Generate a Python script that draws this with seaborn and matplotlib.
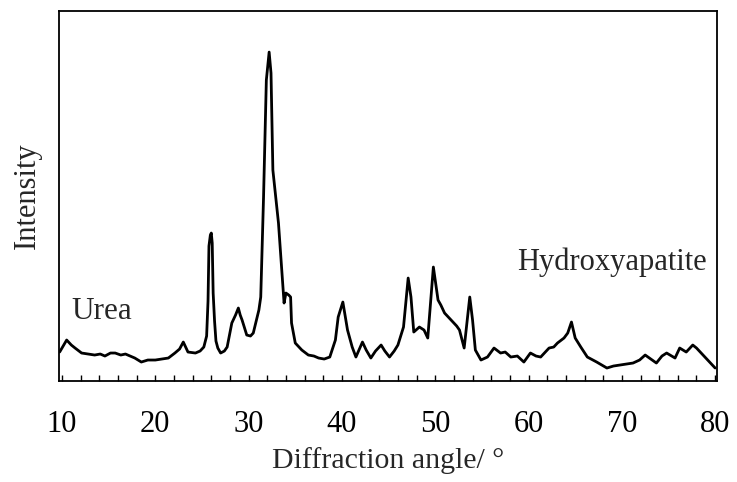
import matplotlib
matplotlib.use("Agg")
import matplotlib.pyplot as plt
from matplotlib.ticker import MultipleLocator
import seaborn as sns
import pandas as pd

# Diffraction angle (2θ, degrees)
angle = [9.75, 10.5, 11.0, 11.4, 12.1, 12.8, 13.5, 14.1, 14.6, 15.2, 15.7, 16.3,
         16.8, 17.3, 17.8, 18.5, 19.2, 20.0, 20.7, 21.4, 22.1, 22.6, 23.0, 23.5,
         24.3, 24.8, 25.2, 25.5, 25.65, 25.75, 25.9, 26.0, 26.1, 26.2, 26.35, 26.5,
         26.7, 27.0, 27.4, 27.7, 28.2, 28.6, 28.9, 29.1, 29.3, 29.8, 30.2, 30.5,
         31.1, 31.3, 31.6, 31.9, 32.2, 32.4, 32.6, 32.9, 33.2, 33.5, 33.8, 34.0,
         34.3, 34.5, 34.6, 35.0, 35.7, 36.4, 37.0, 37.5, 38.1, 38.7, 39.3, 39.6,
         40.1, 40.6, 41.1, 41.5, 42.2, 42.6, 43.1, 43.6, 44.2, 44.6, 45.1, 45.6,
         46.0, 46.6, 47.1, 47.4, 47.7, 48.3, 48.8, 49.2, 49.8, 50.3, 50.6, 51.0,
         51.5, 51.9, 52.3, 52.6, 53.1, 53.7, 54.0, 54.3, 54.9, 55.6, 56.3, 57.0,
         57.5, 58.1, 58.8, 59.5, 60.2, 60.8, 61.3, 62.2, 62.7, 63.1, 63.8, 64.2,
         64.6, 65.0, 65.6, 66.3, 67.3, 68.4, 69.1, 69.8, 70.5, 71.2, 71.9, 72.5,
         73.1, 73.7, 74.3, 74.8, 75.7, 76.2, 76.9, 77.6, 78.0, 78.5, 79.0, 79.4,
         80.0]
# Intensity (arbitrary units)
intensity = [29, 41, 36, 33, 28, 27, 26, 27, 25, 28, 28, 26,
             27, 25, 23, 19, 21, 21, 22, 23, 28, 32, 39, 29,
             28, 30, 34, 45, 80, 135, 146, 148, 138, 88, 60, 40,
             33, 28, 30, 34, 58, 66, 73, 66, 61, 46, 45, 48,
             71, 84, 184, 301, 329, 308, 211, 184, 158, 118, 78, 88,
             86, 84, 58, 38, 31, 26, 25, 23, 22, 24, 41, 64,
             79, 51, 34, 24, 39, 31, 23, 30, 36, 30, 24, 30,
             36, 54, 103, 84, 49, 54, 51, 43, 114, 81, 76, 68,
             63, 59, 55, 51, 33, 84, 61, 31, 21, 24, 33, 28,
             29, 24, 25, 19, 28, 25, 24, 33, 34, 38, 43, 48,
             59, 43, 34, 24, 19, 13, 15, 16, 17, 18, 21, 26,
             22, 18, 25, 28, 23, 33, 29, 36, 33, 28, 23, 19,
             13]

df = pd.DataFrame({"angle": angle, "intensity": intensity})

sns.set_theme(style="white")
plt.rcParams["font.family"] = ["Liberation Serif", "DejaVu Serif"]
plt.rcParams["axes.edgecolor"] = "black"

fig = plt.figure(figsize=(7.37, 4.82), dpi=100)
ax = fig.add_axes([0.0807, 0.2095, 0.8922, 0.7675])

sns.lineplot(data=df, x="angle", y="intensity", ax=ax, color="black",
             linewidth=2.0, sort=False)

ax.set_xlim(9.73, 80.2)
ax.set_ylim(0, 370)
ax.xaxis.set_major_locator(MultipleLocator(10))
ax.xaxis.set_minor_locator(MultipleLocator(2))
ax.tick_params(axis="x", which="both", direction="in", length=4.5, width=1.0,
               colors="black", labelsize=22, pad=21, bottom=True)
ax.set_yticks([])
for s in ax.spines.values():
    s.set_linewidth(1.3)
    s.set_color("black")

ax.set_xlabel("Diffraction angle/ \u00b0", fontsize=21.5, labelpad=6)
ax.set_ylabel("Intensity", fontsize=22, labelpad=13)

ax.text(11.0, 62, "Urea", fontsize=22.5, ha="left", va="baseline")
ax.text(58.8, 111, "Hydroxyapatite", fontsize=22, ha="left", va="baseline")

fig.savefig("out.png", dpi=100)
